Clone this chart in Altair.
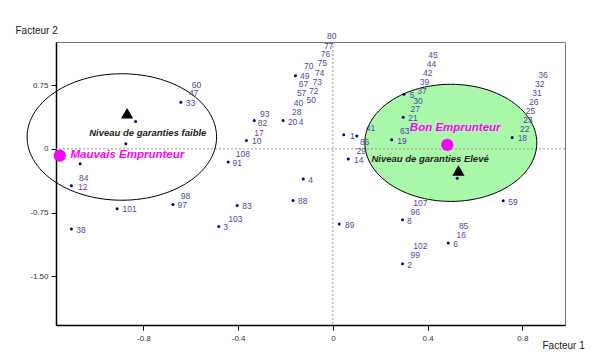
import altair as alt
import pandas as pd
import numpy as np

# ---- individuals (dots) ----
dot_x = [-0.642, -0.833, -0.874, -1.067, -1.104, -0.911, -0.675, -1.104, -0.482, -0.404,
         -0.442, -0.365, -0.332, -0.210, -0.158, -0.125, -0.168, 0.046, 0.101, 0.065,
         0.248, 0.297, 0.300, 0.757, 0.525, 0.719, 0.294, 0.027, 0.487, 0.294]
dot_y = [0.549, 0.321, 0.059, -0.176, -0.435, -0.706, -0.655, -0.945, -0.914, -0.667,
         -0.156, 0.098, 0.335, 0.333, 0.862, -0.356, -0.608, 0.165, 0.153, -0.118,
         0.106, 0.373, 0.644, 0.133, -0.345, -0.612, -0.835, -0.886, -1.109, -1.353]

# ---- individual labels (label anchor positions) ----
lab_text = ["33", "47", "60", "12", "84", "101", "97", "98", "38", "3", "103", "83", "91", "108",
            "10", "17", "82", "93", "20", "4", "28", "40", "57", "50", "67", "72", "73", "74",
            "49", "70", "75", "76", "77", "80", "4", "88", "1", "41", "86", "29", "14", "19",
            "63", "21", "27", "30", "5", "37", "39", "42", "44", "45", "18", "22", "23", "25",
            "26", "31", "32", "36", "59", "8", "96", "107", "89", "6", "16", "85", "2", "99", "102"]
lab_x = [-0.621, -0.608, -0.596, -1.076, -1.072, -0.888, -0.656, -0.642, -1.083, -0.463, -0.442, -0.383, -0.424, -0.410,
         -0.341, -0.332, -0.317, -0.308, -0.190, -0.144, -0.173, -0.165, -0.152, -0.111, -0.144, -0.101, -0.086, -0.076,
         -0.139, -0.122, -0.065, -0.051, -0.038, -0.025, -0.104, -0.147, 0.072, 0.139, 0.114, 0.100, 0.089, 0.272,
         0.283, 0.318, 0.328, 0.339, 0.325, 0.356, 0.367, 0.381, 0.396, 0.403, 0.780, 0.790, 0.804, 0.814,
         0.828, 0.842, 0.853, 0.867, 0.740, 0.313, 0.328, 0.339, 0.051, 0.508, 0.522, 0.532, 0.314, 0.328, 0.339]
lab_y = [0.545, 0.655, 0.753, -0.444, -0.338, -0.709, -0.667, -0.561, -0.953, -0.926, -0.824, -0.671, -0.168, -0.062,
         0.094, 0.192, 0.306, 0.412, 0.321, 0.318, 0.435, 0.541, 0.655, 0.576, 0.765, 0.686, 0.792, 0.898,
         0.859, 0.976, 1.012, 1.118, 1.215, 1.324, -0.365, -0.620, 0.156, 0.244, 0.086, -0.020, -0.129, 0.098,
         0.215, 0.361, 0.471, 0.568, 0.635, 0.682, 0.792, 0.898, 1.000, 1.106, 0.126, 0.235, 0.341, 0.447,
         0.556, 0.662, 0.765, 0.871, -0.627, -0.844, -0.745, -0.632, -0.898, -1.121, -1.020, -0.914, -1.365, -1.255, -1.149]
lab_magenta = ["17", "16", "12"]

# ---- groups: ellipses, centroids ----
ell_cx = [-0.891, 0.498]
ell_cy = [0.140, 0.071]
ell_rx = [0.400, 0.363]
ell_ry = [0.745, 0.690]

tri_x = [-0.869, 0.530]
tri_y = [0.420, -0.255]
grp_x = [-1.153, 0.483]
grp_y = [-0.079, 0.047]

grp_names = ["Mauvais Emprunteur", "Bon Emprunteur"]
grp_lab_x = [-1.108, 0.325]
grp_lab_y = [-0.071, 0.244]
lvl_names = ["Niveau de garanties faible", "Niveau de garanties Elevé"]
lvl_lab_x = [-1.029, 0.163]
lvl_lab_y = [0.192, -0.121]

x_ticks = [-0.8, -0.4, 0, 0.4, 0.8]
x_tick_labels = ["-0.8", "-0.4", "0", "0.4", "0.8"]
y_ticks = [0.75, 0, -0.75, -1.5]
y_tick_labels = ["0.75", "0", "-0.75", "-1.50"]
x_domain = [-1.169, 0.980]
y_domain = [-2.075, 1.259]

FONT = "Liberation Sans"


def label_expr(vals, labs):
    expr = "''"
    for v, l in zip(vals, labs):
        expr = f"abs(datum.value - ({v})) < 1e-6 ? '{l}' : (" + expr + ")"
    return expr


xs = alt.Scale(domain=x_domain, nice=False, zero=False)
ys = alt.Scale(domain=y_domain, nice=False, zero=False)

# build tables
dots = pd.DataFrame({"x": dot_x, "y": dot_y})
labs = pd.DataFrame({"x": lab_x, "y": lab_y, "t": lab_text})
labs["c"] = ["#9a2aa8" if t in lab_magenta else "#4b4ba0" for t in lab_text]

ell_rows = []
theta = np.linspace(0, 2 * np.pi, 121)
for i in range(len(ell_cx)):
    for k, th in enumerate(theta):
        ell_rows.append({"e": i, "k": k,
                         "x": ell_cx[i] + ell_rx[i] * np.cos(th),
                         "y": ell_cy[i] + ell_ry[i] * np.sin(th)})
ell = pd.DataFrame(ell_rows)

tris = pd.DataFrame({"x": tri_x, "y": tri_y})
grps = pd.DataFrame({"x": grp_x, "y": grp_y})
grp_labs = pd.DataFrame({"x": grp_lab_x, "y": grp_lab_y, "t": grp_names})
lvl_labs = pd.DataFrame({"x": lvl_lab_x, "y": lvl_lab_y, "t": lvl_names})
zero = pd.DataFrame({"x": [0], "y": [0]})

X = alt.X("x:Q", scale=xs, axis=alt.Axis(
    values=x_ticks, labelExpr=label_expr(x_ticks, x_tick_labels), grid=False,
    domainColor="black", domainWidth=1.5, tickColor="black", tickSize=5, tickWidth=1,
    labelFontSize=8, labelColor="#333", labelFont=FONT, labelPadding=4,
    title="Facteur 1", titleX=486, titleY=20, titleAlign="left", titleBaseline="middle",
    titleFontWeight="normal", titleFontSize=10, titleFont=FONT, titleColor="#222"))
Y = alt.Y("y:Q", scale=ys, axis=alt.Axis(
    values=y_ticks, labelExpr=label_expr(y_ticks, y_tick_labels), grid=False,
    domainColor="black", domainWidth=1.5, tickColor="black", tickSize=5, tickWidth=1,
    labelFontSize=8, labelColor="#333", labelFont=FONT, labelPadding=3,
    title="Facteur 2", titleAngle=0, titleX=-41, titleY=-12, titleAlign="left",
    titleBaseline="middle", titleFontWeight="normal", titleFontSize=10, titleFont=FONT,
    titleColor="#222"))

green = alt.Chart(ell[ell.e == 1]).mark_line(
    fill="#aaf8aa", stroke="#aaf8aa", strokeWidth=0, fillOpacity=1).encode(
    x=X, y=Y, order="k:Q")

vline = alt.Chart(zero).mark_rule(color="#999", strokeDash=[2, 2], strokeWidth=1).encode(
    x=alt.X("x:Q", scale=xs))
hline = alt.Chart(zero).mark_rule(color="#999", strokeDash=[2, 2], strokeWidth=1).encode(
    y=alt.Y("y:Q", scale=ys))

outline = alt.Chart(ell).mark_line(color="black", strokeWidth=1).encode(
    x=alt.X("x:Q", scale=xs), y=alt.Y("y:Q", scale=ys), order="k:Q", detail="e:N")

pts = alt.Chart(dots).mark_point(filled=True, size=9, color="#000080", opacity=1).encode(
    x=alt.X("x:Q", scale=xs), y=alt.Y("y:Q", scale=ys))

txt = alt.Chart(labs).mark_text(align="left", baseline="middle", fontSize=8.5, font=FONT).encode(
    x=alt.X("x:Q", scale=xs), y=alt.Y("y:Q", scale=ys), text="t:N",
    color=alt.Color("c:N", scale=None))

tri = alt.Chart(tris).mark_point(shape="triangle-up", filled=True, size=150, color="black",
                                 opacity=1).encode(
    x=alt.X("x:Q", scale=xs), y=alt.Y("y:Q", scale=ys))

gpt = alt.Chart(grps).mark_point(shape="circle", filled=True, size=150, color="#ff00ff",
                                 opacity=1).encode(
    x=alt.X("x:Q", scale=xs), y=alt.Y("y:Q", scale=ys))

gtxt = alt.Chart(grp_labs).mark_text(align="left", baseline="middle", fontSize=11.5,
                                     font=FONT, fontStyle="italic", fontWeight="bold",
                                     color="#ff00ff").encode(
    x=alt.X("x:Q", scale=xs), y=alt.Y("y:Q", scale=ys), text="t:N")

ltxt = alt.Chart(lvl_labs).mark_text(align="left", baseline="middle", fontSize=9.5,
                                     font=FONT, fontStyle="italic", fontWeight="bold",
                                     color="#222").encode(
    x=alt.X("x:Q", scale=xs), y=alt.Y("y:Q", scale=ys), text="t:N")

chart = alt.layer(green, vline, hline, outline, pts, txt, tri, gpt, gtxt, ltxt).properties(
    width=509, height=283,
    padding={"left": 56, "top": 42, "right": 32, "bottom": 28},
    autosize=alt.AutoSizeParams(type="none"),
    background="white",
).configure_view(stroke="#777", strokeWidth=1)

chart.save("out.html", embed_options={"renderer": "svg", "actions": False})
